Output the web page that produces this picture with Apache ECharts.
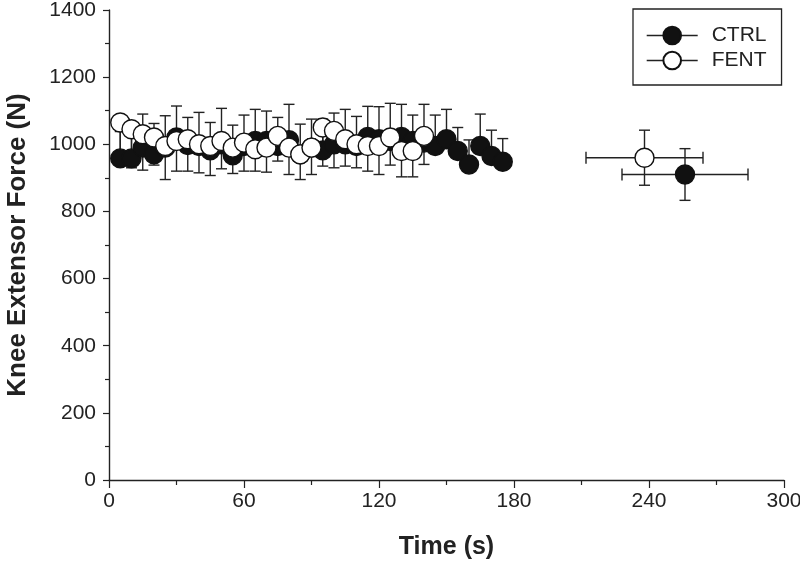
<!DOCTYPE html>
<html>
<head>
<meta charset="utf-8">
<script src="https://cdn.jsdelivr.net/npm/echarts@6/dist/echarts.min.js"></script>
<style>
html,body{margin:0;padding:0;background:#fff;}
#chart{width:800px;height:570px;}
</style>
</head>
<body>
<div id="chart"></div>
<script>
// ---- data ----
const ctrlTime = [5,10,15,20,25,30,35,40,45,50,55,60,65,70,75,80,85,90,95,100,105,110,115,120,125,130,135,140,145,150,155,160,165,170,175];
const ctrlForce = [958,958,990,970,990,1020,998,995,982,1000,967,995,1010,1010,995,1012,970,990,982,1000,1000,995,1022,1015,1010,1022,1010,1005,995,1015,980,940,995,965,948];
const ctrlErr = [80,80,100,92,95,94,82,100,83,107,90,92,94,89,85,107,90,85,93,93,104,88,91,97,112,97,77,114,92,89,70,73,95,77,69];

const fentTime = [5,10,15,20,25,30,35,40,45,50,55,60,65,70,75,80,85,90,95,100,105,110,115,120,125,130,135,140];
const fentForce = [1065,1045,1030,1020,995,1010,1015,1000,995,1010,990,1005,985,990,1025,990,970,990,1050,1040,1015,1000,995,995,1020,980,980,1025];
const fentErr = [90,115,107,82,100,90,95,85,88,83,77,85,65,73,75,80,75,80,115,110,80,70,75,85,82,77,77,85];

// final (post-exercise) points: [CTRL, FENT]
const endGroups = ['CTRL','FENT'];
const endTime = [256, 238];
const endTimeErr = [28, 26];
const endForce = [910, 960];
const endForceErr = [77, 82];

const xTicks = [0,60,120,180,240,300];
const yTicks = [0,200,400,600,800,1000,1200,1400];

// ---- build ----
const ink = '#222';
const font = '"Liberation Sans", Arial, Helvetica, sans-serif';

function pts(times, vals) { return times.map((t,i)=>[t, vals[i]]); }

const ctrlPts = pts(ctrlTime, ctrlForce).concat([[endTime[0], endForce[0]]]);
const fentPts = pts(fentTime, fentForce).concat([[endTime[1], endForce[1]]]);

// error bar items: [x, y, yLow, yHigh, xLow, xHigh]
const ctrlBars = ctrlTime.map((t,i)=>[t, ctrlForce[i], ctrlForce[i], ctrlForce[i]+ctrlErr[i], t, t]);
const fentBars = fentTime.map((t,i)=>[t, fentForce[i], fentForce[i]-fentErr[i], fentForce[i], t, t]);
const endBars = endTime.map((t,i)=>[t, endForce[i], endForce[i]-endForceErr[i], endForce[i]+endForceErr[i], t-endTimeErr[i], t+endTimeErr[i]]);

function renderErr(params, api) {
  const x = api.value(0), y = api.value(1), yl = api.value(2), yh = api.value(3), xl = api.value(4), xh = api.value(5);
  const style = {stroke: ink, lineWidth: 1.4};
  const ch = [];
  const capW = 5.5, capH = 6;
  function seg(x1,y1,x2,y2){ ch.push({type:'line', shape:{x1,y1,x2,y2}, style}); }
  if (yh > yl) {
    const a = api.coord([x, yl]), b = api.coord([x, yh]);
    seg(a[0],a[1],b[0],b[1]);
    if (yl < y) seg(a[0]-capW,a[1],a[0]+capW,a[1]);
    if (yh > y) seg(b[0]-capW,b[1],b[0]+capW,b[1]);
  }
  if (xh > xl) {
    const a = api.coord([xl, y]), b = api.coord([xh, y]);
    seg(a[0],a[1],b[0],b[1]);
    seg(a[0],a[1]-capH,a[0],a[1]+capH);
    seg(b[0],b[1]-capH,b[0],b[1]+capH);
  }
  return {type:'group', children: ch};
}

const chart = echarts.init(document.getElementById('chart'), null, {renderer:'canvas'});
chart.setOption({
  animation: false,
  backgroundColor: '#fff',
  grid: {left: 109, right: 16, top: 10, bottom: 90, containLabel: false, outerBoundsMode: 'none'},
  legend: {
    data: ['CTRL','FENT'],
    orient: 'vertical',
    left: 633, top: 9,
    padding: [16,15,14,13],
    itemWidth: 51, itemHeight: 22, itemGap: 4,
    borderColor: ink, borderWidth: 1.3,
    textStyle: {fontSize: 21, color: ink, fontFamily: font, padding: [0,0,0,9]},
    lineStyle: {color: ink, width: 1.4, opacity: 1, type: 'solid'},
    selectedMode: false
  },
  xAxis: {
    type: 'value', min: xTicks[0], max: xTicks[xTicks.length-1], interval: 60,
    name: 'Time (s)', nameLocation: 'middle', nameGap: 55,
    nameTextStyle: {fontSize: 25, fontWeight: 'bold', color: ink, fontFamily: font},
    axisLine: {show: true, onZero: false, lineStyle: {color: ink, width: 1.4}},
    axisTick: {show: true, inside: false, length: 8, lineStyle: {color: ink, width: 1.2}},
    minorTick: {show: true, splitNumber: 2, length: 5, lineStyle: {color: ink, width: 1.2}},
    axisLabel: {fontSize: 21, color: ink, fontFamily: font, margin: 11, formatter: v => String(v)},
    splitLine: {show: false}
  },
  yAxis: {
    type: 'value', min: yTicks[0], max: yTicks[yTicks.length-1], interval: 200,
    name: 'Knee Extensor Force (N)', nameLocation: 'middle', nameGap: 78,
    nameTextStyle: {fontSize: 26, fontWeight: 'bold', color: ink, fontFamily: font},
    axisLine: {show: true, onZero: false, lineStyle: {color: ink, width: 1.4}},
    axisTick: {show: true, inside: false, length: 6, lineStyle: {color: ink, width: 1.2}},
    minorTick: {show: true, splitNumber: 2, length: 4, lineStyle: {color: ink, width: 1.2}},
    axisLabel: {fontSize: 21, color: ink, fontFamily: font, margin: 13, formatter: v => String(v)},
    splitLine: {show: false}
  },
  series: [
    {name: 'ctrl-err', type: 'custom', renderItem: renderErr, data: ctrlBars, z: 1, silent: true,
     encode: {x: [0,4,5], y: [1,2,3]}},
    {name: 'fent-err', type: 'custom', renderItem: renderErr, data: fentBars, z: 1, silent: true,
     encode: {x: [0,4,5], y: [1,2,3]}},
    {name: 'end-err', type: 'custom', renderItem: renderErr, data: endBars, z: 1, silent: true,
     encode: {x: [0,4,5], y: [1,2,3]}},
    {name: 'CTRL', type: 'line', data: ctrlPts, symbol: 'circle', symbolSize: 19, showSymbol: true, showAllSymbol: true,
     lineStyle: {width: 0, opacity: 0}, itemStyle: {color: '#111', borderColor: '#111', borderWidth: 1.4}, z: 3, silent: true},
    {name: 'FENT', type: 'line', data: fentPts, symbol: 'circle', symbolSize: 19, showSymbol: true, showAllSymbol: true,
     lineStyle: {width: 0, opacity: 0}, itemStyle: {color: '#fff', borderColor: '#111', borderWidth: 1.4}, z: 4, silent: true}
  ]
});
</script>
</body>
</html>
